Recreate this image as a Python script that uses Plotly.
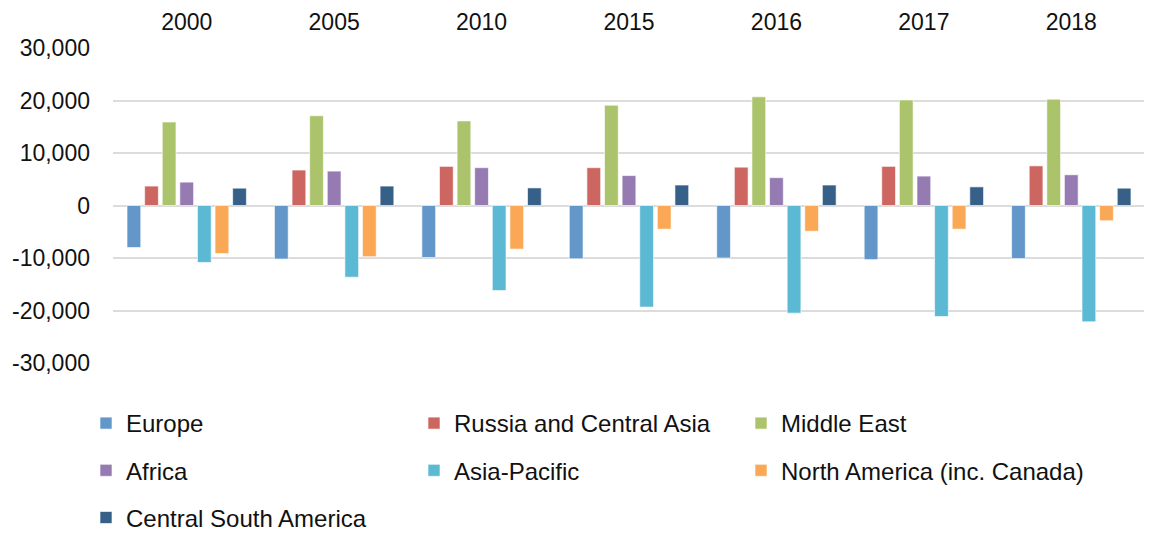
import plotly.graph_objects as go

years = ["2000", "2005", "2010", "2015", "2016", "2017", "2018"]

europe = [-8000, -10200, -9900, -10150, -10000, -10300, -10100]
russia_central_asia = [3700, 6750, 7450, 7200, 7300, 7450, 7550]
middle_east = [15900, 17100, 16100, 19100, 20700, 20100, 20250]
africa = [4450, 6550, 7200, 5700, 5300, 5600, 5850]
asia_pacific = [-10850, -13650, -16200, -19350, -20500, -21150, -22150]
north_america = [-9150, -9750, -8300, -4500, -4900, -4500, -2900]
central_south_america = [3300, 3700, 3350, 3900, 3900, 3550, 3300]

y_ticks = [-30000, -20000, -10000, 0, 10000, 20000, 30000]
y_tick_labels = ["-30,000", "-20,000", "-10,000", "0", "10,000", "20,000", "30,000"]

# una leyenda por columna (como en el original: 3 columnas)
series = [
    ("Europe", europe, "#6397CA", "legend"),
    ("Russia and Central Asia", russia_central_asia, "#CD6660", "legend2"),
    ("Middle East", middle_east, "#ABC46C", "legend3"),
    ("Africa", africa, "#957BB1", "legend"),
    ("Asia-Pacific", asia_pacific, "#5CB9D4", "legend2"),
    ("North America (inc. Canada)", north_america, "#FAA856", "legend3"),
    ("Central South America", central_south_america, "#376089", "legend"),
]

# la pagina tiene 8px de margen en body -> la figura ocupa el resto
W, H = 1144, 525
FAMILY = "Liberation Sans, Arial, sans-serif"
FONT = dict(family=FAMILY, size=23, color="#111111")
FONT_BIG = dict(family=FAMILY, size=24, color="#111111")

fig = go.Figure()
for name, vals, color, leg in series:
    fig.add_trace(go.Bar(
        x=years, y=vals, name=name, legend=leg, legendgroup=name,
        marker=dict(color=color, line=dict(color="rgba(255,255,255,0.6)", width=1)),
    ))


def _legend(x_px):
    return dict(
        orientation="v", xref="container", yref="container",
        x=x_px / W, y=1 - 393 / H, xanchor="left", yanchor="top",
        tracegroupgap=13, font=FONT_BIG, bgcolor="rgba(0,0,0,0)",
        itemclick=False, traceorder="grouped",
    )


fig.update_layout(
    width=W, height=H,
    margin=dict(l=105, r=7, t=40, b=170, autoexpand=False),
    paper_bgcolor="white", plot_bgcolor="white",
    font=FONT,
    barmode="group", bargap=0.164, bargroupgap=0.22,
    showlegend=True,
    legend=_legend(78),
    legend2=_legend(406),
    legend3=_legend(733),
)
fig.update_xaxes(
    side="top", type="category", showgrid=False, showline=False,
    ticks="", tickfont=FONT, ticklabelstandoff=12, automargin=False,
)
fig.update_yaxes(
    range=[-30000, 30000], tickvals=y_ticks, ticktext=y_tick_labels,
    showgrid=True, gridcolor="#DCDCDC", gridwidth=1.5,
    zeroline=True, zerolinecolor="#DCDCDC", zerolinewidth=1.5,
    showline=False, ticks="", tickfont=FONT, ticklabelstandoff=22, automargin=False,
)

fig.write_html("out.html")
